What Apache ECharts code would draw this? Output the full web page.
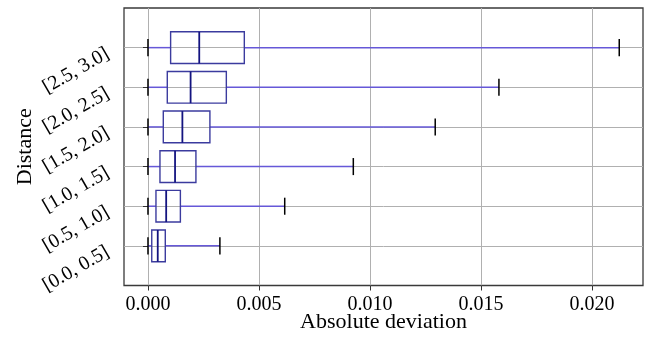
<!DOCTYPE html>
<html>
<head>
<meta charset="utf-8">
<script src="https://cdn.jsdelivr.net/npm/echarts@6/dist/echarts.min.js"></script>
<style>html,body{margin:0;padding:0;background:#fff;}#c{width:667px;height:341px;}</style>
</head>
<body>
<div id="c"></div>
<script>
const categories = ['[0.0, 0.5]', '[0.5, 1.0]', '[1.0, 1.5]', '[1.5, 2.0]', '[2.0, 2.5]', '[2.5, 3.0]'];
const whiskerLow = [0, 0, 0, 0, 0, 0];
const q1 = [0.00017, 0.00036, 0.00054, 0.00069, 0.00087, 0.00102];
const median = [0.00044, 0.00082, 0.00122, 0.00155, 0.00192, 0.00231];
const q3 = [0.00078, 0.00146, 0.00216, 0.00279, 0.00353, 0.00434];
const whiskerHigh = [0.00324, 0.00616, 0.00925, 0.01294, 0.01581, 0.02123];
const xTicks = [0, 0.005, 0.010, 0.015, 0.020];

const yCats = [''].concat(categories).concat(['']);
const data = categories.map((c, i) => [i + 1, whiskerLow[i], q1[i], median[i], q3[i], whiskerHigh[i]]);
const FONT = '"Liberation Serif", "DejaVu Serif", serif';

const chart = echarts.init(document.getElementById('c'), null, {renderer: 'canvas'});
chart.setOption({
  animation: false,
  backgroundColor: '#fff',
  grid: {left: 124, right: 24, top: 8, bottom: 55.5, show: true, borderColor: '#3a3a3a', borderWidth: 1.3, containLabel: false, outerBoundsMode: 'none'},
  xAxis: {
    type: 'value', min: -0.00108, max: 0.0223,
    name: 'Absolute deviation', nameLocation: 'middle', nameGap: 26, nameMoveOverlap: false,
    nameTextStyle: {fontFamily: FONT, fontSize: 22, color: '#000'},
    axisLine: {show: false},
    axisTick: {show: true, customValues: xTicks, length: 5, lineStyle: {color: '#333', width: 1}},
    axisLabel: {customValues: xTicks, fontFamily: FONT, fontSize: 20, color: '#000', margin: 9,
      formatter: v => v.toFixed(3)},
    splitLine: {show: true, lineStyle: {color: '#b0b0b0', width: 1}}
  },
  yAxis: {
    type: 'category', data: yCats, boundaryGap: false,
    name: 'Distance', nameLocation: 'middle', nameGap: 88, nameRotate: 90, nameMoveOverlap: false,
    nameTextStyle: {fontFamily: FONT, fontSize: 22, color: '#000'},
    axisLine: {show: false},
    axisTick: {show: true, length: 5, interval: (i) => i > 0 && i < yCats.length - 1, lineStyle: {color: '#333', width: 1}},
    axisLabel: {rotate: 30, fontFamily: FONT, fontSize: 20, color: '#000', margin: 19,
      verticalAlign: 'top', lineHeight: 11,
      interval: (i) => i > 0 && i < yCats.length - 1},
    splitLine: {show: true, interval: (i) => i > 0 && i < yCats.length - 1, lineStyle: {color: '#b0b0b0', width: 1}}
  },
  series: [{
    type: 'custom',
    data: data,
    encode: {x: [1, 2, 3, 4, 5], y: 0},
    clip: false,
    renderItem: function (params, api) {
      const c = api.value(0);
      const pMin = api.coord([api.value(1), c]);
      const pQ1 = api.coord([api.value(2), c]);
      const pMed = api.coord([api.value(3), c]);
      const pQ3 = api.coord([api.value(4), c]);
      const pMax = api.coord([api.value(5), c]);
      const band = api.size([0, 1])[1];
      const bh = band * 0.8;
      const ch = band * 0.43;
      const y = pMed[1];
      return {
        type: 'group',
        children: [
          {type: 'line', shape: {x1: pMin[0], y1: y, x2: pQ1[0], y2: y}, style: {stroke: '#6658d8', lineWidth: 1.5}},
          {type: 'line', shape: {x1: pQ3[0], y1: y, x2: pMax[0], y2: y}, style: {stroke: '#6658d8', lineWidth: 1.5}},
          {type: 'line', shape: {x1: pMin[0], y1: y - ch / 2, x2: pMin[0], y2: y + ch / 2}, style: {stroke: '#000', lineWidth: 1.5}},
          {type: 'line', shape: {x1: pMax[0], y1: y - ch / 2, x2: pMax[0], y2: y + ch / 2}, style: {stroke: '#000', lineWidth: 1.5}},
          {type: 'rect', shape: {x: pQ1[0], y: y - bh / 2, width: pQ3[0] - pQ1[0], height: bh}, style: {fill: 'rgba(255,255,255,0)', stroke: '#3b3b9e', lineWidth: 1.4}},
          {type: 'line', shape: {x1: pMed[0], y1: y - bh / 2, x2: pMed[0], y2: y + bh / 2}, style: {stroke: '#141480', lineWidth: 1.8}}
        ]
      };
    }
  }]
});
</script>
</body>
</html>
